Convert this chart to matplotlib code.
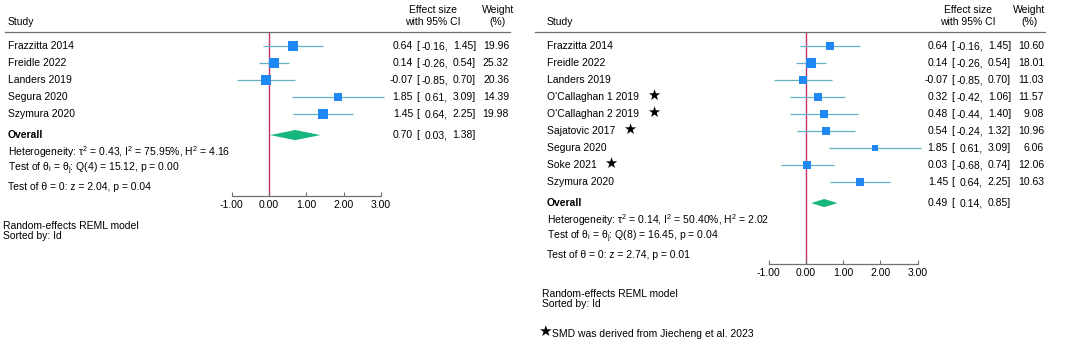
import numpy as np
import matplotlib
matplotlib.use("Agg")
import matplotlib.pyplot as plt

plt.rcParams['font.family'] = ['Liberation Sans', 'DejaVu Sans']
plt.rcParams['mathtext.fontset'] = 'custom'
plt.rcParams['mathtext.rm'] = 'Liberation Sans'
plt.rcParams['mathtext.it'] = 'Liberation Sans:italic'
plt.rcParams['mathtext.bf'] = 'Liberation Sans:bold'

# ---- data: left panel (5 studies) ----
left_studies = ["Frazzitta 2014", "Freidle 2022", "Landers 2019", "Segura 2020", "Szymura 2020"]
left_es = [0.64, 0.14, -0.07, 1.85, 1.45]
left_lo = [-0.16, -0.26, -0.85, 0.61, 0.64]
left_hi = [1.45, 0.54, 0.70, 3.09, 2.25]
left_w = [19.96, 25.32, 20.36, 14.39, 19.98]
left_overall = (0.70, 0.03, 1.38)
left_stats = [r"Heterogeneity: τ$^2$ = 0.43, I$^2$ = 75.95%, H$^2$ = 4.16",
              r"Test of θ$_\mathrm{i}$ = θ$_\mathrm{j}$: Q(4) = 15.12, p = 0.00",
              "Test of θ = 0: z = 2.04, p = 0.04"]

# ---- data: right panel (9 studies) ----
right_studies = ["Frazzitta 2014", "Freidle 2022", "Landers 2019", "O'Callaghan 1 2019",
                 "O'Callaghan 2 2019", "Sajatovic 2017", "Segura 2020", "Soke 2021", "Szymura 2020"]
right_star = [False, False, False, True, True, True, False, True, False]
right_es = [0.64, 0.14, -0.07, 0.32, 0.48, 0.54, 1.85, 0.03, 1.45]
right_lo = [-0.16, -0.26, -0.85, -0.42, -0.44, -0.24, 0.61, -0.68, 0.64]
right_hi = [1.45, 0.54, 0.70, 1.06, 1.40, 1.32, 3.09, 0.74, 2.25]
right_w = [10.60, 18.01, 11.03, 11.57, 9.08, 10.96, 6.06, 12.06, 10.63]
right_overall = (0.49, 0.14, 0.85)
right_stats = [r"Heterogeneity: τ$^2$ = 0.14, I$^2$ = 50.40%, H$^2$ = 2.02",
               r"Test of θ$_\mathrm{i}$ = θ$_\mathrm{j}$: Q(8) = 16.45, p = 0.04",
               "Test of θ = 0: z = 2.74, p = 0.01"]

xticks = [-1, 0, 1, 2, 3]
xticklabels = ["-1.00", "0.00", "1.00", "2.00", "3.00"]

# colours
SQ = "#1F88F2"
CI = "#62B3C4"
DIA = "#17B67C"
NULL = "#C2336C"
AX = "#707070"
FS = 7.5

W, H = 1065, 344
fig = plt.figure(figsize=(W / 100, H / 100), dpi=100)

ROW_PX = 17.0
ROW0_PX = 46.0


def forest(px0, pw, zero_px, unit_px, studies, es, lo, hi, wts, overall, stats,
           col, stars=None, sq_scale=2.0, dia_h=0.3, footnote=False):
    ax = fig.add_axes([px0 / W, 0, pw / W, 1])
    ax.set_xlim(-zero_px / unit_px, (pw - zero_px) / unit_px)
    ax.set_ylim((H - ROW0_PX) / ROW_PX, -ROW0_PX / ROW_PX)
    for s in ["top", "left", "right"]:
        ax.spines[s].set_visible(False)
    ax.set_yticks([])
    tr = ax.get_yaxis_transform()  # x axes-fraction, y data rows

    def fx(p):
        return p / pw

    def txt(x, y, s, ha='left', **kw):
        return ax.text(fx(x), y, s, transform=tr, fontsize=kw.pop('fontsize', FS),
                       va='center', ha=ha, **kw)

    n = len(studies)
    r_over = n + 0.24
    r_axis = n + 3.82

    # headers
    txt(col['name'], -1.41, "Study")
    txt(col['hdr_es'], -2.12, "Effect size", ha='center')
    txt(col['hdr_es'], -1.41, "with 95% CI", ha='center')
    txt(col['hdr_w'], -2.12, "Weight", ha='center')
    txt(col['hdr_w'], -1.41, "(%)", ha='center')
    ax.axhline(-0.82, xmin=fx(col['line0']), xmax=fx(col['line1']), color=AX, lw=0.9)

    # null line
    ax.vlines(0, -0.82, r_axis, color=NULL, lw=1.0, zorder=1)

    rows = np.arange(n)
    ax.hlines(rows, lo, hi, color=CI, lw=0.9, zorder=2)
    sizes = sq_scale * np.sqrt(np.array(wts)) * 0.72  # px -> pt
    for r, e, s in zip(rows, es, sizes):
        ax.plot(e, r, marker='s', ms=s, color=SQ, mec=SQ, mew=0, zorder=3)

    for i, name in enumerate(studies):
        t = txt(col['name'], i, name)
        if stars is not None and stars[i]:
            ax.annotate("★", xy=(1, 0.5), xycoords=t, xytext=(5.5, 0.5), textcoords='offset points',
                        fontsize=10.5, va='center', ha='left')
        txt(col['es'], i, f"{es[i]:.2f}", ha='right')
        txt(col['brk'], i, "[")
        txt(col['lo'], i, f"{lo[i]:.2f},", ha='right')
        txt(col['hi'], i, f"{hi[i]:.2f}]", ha='right')
        txt(col['w'], i, f"{wts[i]:.2f}", ha='right')

    # overall
    oe, olo, ohi = overall
    ax.fill([olo, oe, ohi, oe], [r_over, r_over - dia_h, r_over, r_over + dia_h],
            color=DIA, lw=0, zorder=3)
    txt(col['name'], r_over, "Overall", fontweight='bold')
    txt(col['es'], r_over, f"{oe:.2f}", ha='right')
    txt(col['brk'], r_over, "[")
    txt(col['lo'], r_over, f"{olo:.2f},", ha='right')
    txt(col['hi'], r_over, f"{ohi:.2f}]", ha='right')

    for s, dr in zip(stats, [1.27, 2.24, 3.3]):
        txt(col['name'], n + dr, s)

    # x axis
    ax.spines['bottom'].set_position(('data', r_axis))
    ax.spines['bottom'].set_bounds(xticks[0], xticks[-1])
    ax.spines['bottom'].set_color(AX)
    ax.spines['bottom'].set_linewidth(0.9)
    ax.set_xticks(xticks)
    ax.set_xticklabels(xticklabels, fontsize=FS)
    ax.tick_params(axis='x', direction='in', length=3, width=0.8, color=AX, pad=3)

    txt(col['foot'], r_axis + 1.75, "Random-effects REML model")
    txt(col['foot'], r_axis + 2.35, "Sorted by: Id")
    if footnote:
        txt(col['foot'] - 4, r_axis + 4.0, "★", fontsize=11)
        txt(col['foot'] + 10, r_axis + 4.15, "SMD was derived from Jiecheng et al. 2023")
    return ax


left_cols = dict(name=8, hdr_es=433, hdr_w=498, line0=5, line1=510,
                 es=413, brk=416, lo=448, hi=476, w=509, foot=3)
right_cols = dict(name=17, hdr_es=438, hdr_w=499, line0=5, line1=515,
                  es=418, brk=421, lo=453, hi=481, w=514, foot=12)

forest(0, 530, 269, 37.3, left_studies, left_es, left_lo, left_hi, left_w,
       left_overall, left_stats, left_cols, sq_scale=2.1, dia_h=0.3)
forest(530, 535, 276, 37.2, right_studies, right_es, right_lo, right_hi, right_w,
       right_overall, right_stats, right_cols, stars=right_star, sq_scale=2.35,
       dia_h=0.24, footnote=True)

fig.savefig("out.png", dpi=100, facecolor='white')
